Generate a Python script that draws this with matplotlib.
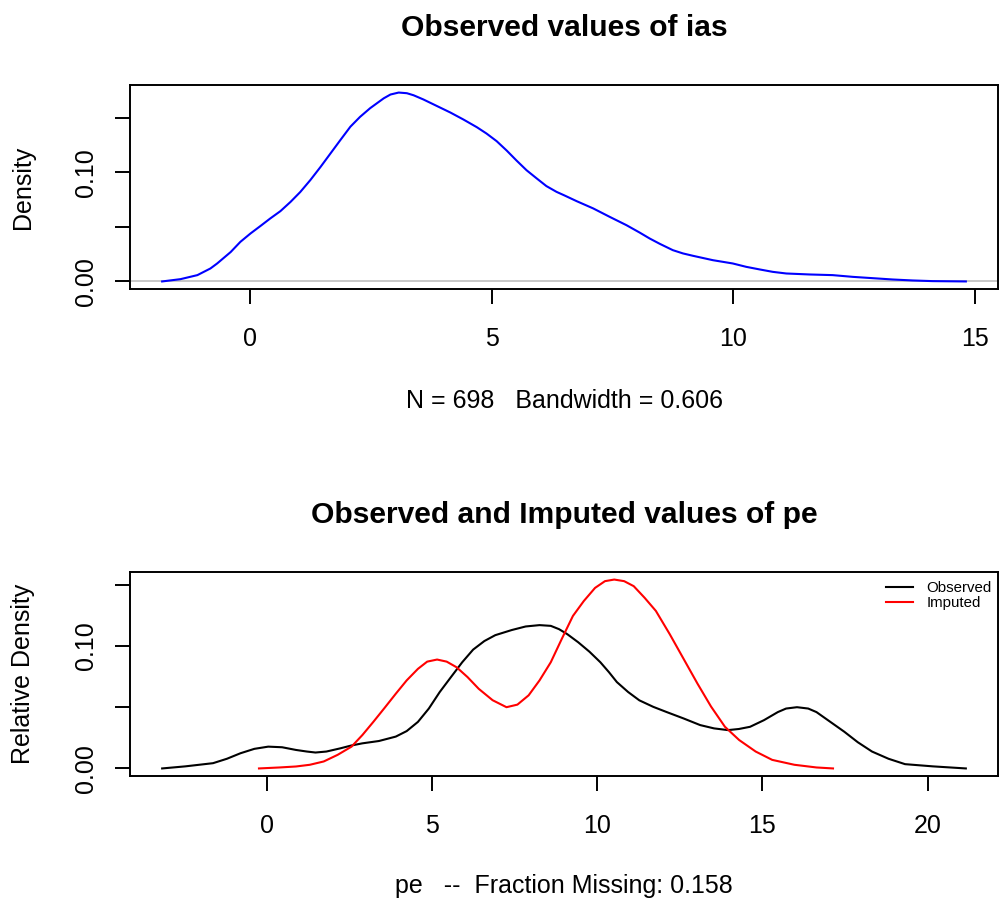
import numpy as np
import matplotlib.pyplot as plt

plt.rcParams['font.family'] = ['Liberation Sans', 'DejaVu Sans']

# density of ias (observed only)
ias_x = [-1.83, -1.45, -1.10, -0.83, -0.69, -0.41, -0.21, 0.00, 0.21, 0.41, 0.62, 0.83, 1.03,
         1.24, 1.45, 1.65, 1.86, 2.07, 2.27, 2.48, 2.76, 2.90, 3.07, 3.24, 3.38, 3.58, 3.86,
         4.14, 4.41, 4.69, 4.89, 5.10, 5.31, 5.51, 5.72, 5.93, 6.13, 6.34, 6.50, 6.76, 7.10,
         7.44, 7.79, 8.06, 8.27, 8.48, 8.75, 8.96, 9.17, 9.58, 9.99, 10.27, 10.55, 10.82,
         11.10, 11.58, 12.06, 12.48, 12.96, 13.30, 13.72, 14.13, 14.82]
ias_y = [0.0000, 0.0021, 0.0058, 0.0119, 0.0165, 0.0270, 0.0363, 0.0440, 0.0510, 0.0578,
         0.0645, 0.0730, 0.0820, 0.0930, 0.1050, 0.1170, 0.1296, 0.1420, 0.1510, 0.1590,
         0.1680, 0.1715, 0.1733, 0.1727, 0.1708, 0.1670, 0.1610, 0.1550, 0.1486, 0.1415,
         0.1357, 0.1287, 0.1200, 0.1110, 0.1020, 0.0945, 0.0875, 0.0822, 0.0790, 0.0736,
         0.0670, 0.0593, 0.0516, 0.0449, 0.0394, 0.0345, 0.0287, 0.0257, 0.0235, 0.0195,
         0.0165, 0.0134, 0.0110, 0.0088, 0.0073, 0.0064, 0.0058, 0.0042, 0.0028, 0.0018,
         0.0009, 0.0003, 0.0000]

# densities of pe, observed vs imputed
pe_obs_x = [-3.16, -2.46, -1.62, -1.20, -0.79, -0.37, 0.05, 0.47, 0.89, 1.22, 1.48, 1.81,
            2.23, 2.56, 2.90, 3.40, 3.91, 4.24, 4.58, 4.91, 5.24, 5.58, 5.92, 6.25, 6.59,
            6.92, 7.42, 7.84, 8.26, 8.60, 8.85, 9.10, 9.43, 9.77, 10.10, 10.36, 10.60, 10.94,
            11.28, 11.70, 12.11, 12.62, 13.12, 13.54, 13.96, 14.29, 14.63, 15.05, 15.47,
            15.72, 16.05, 16.39, 16.64, 17.06, 17.48, 17.89, 18.32, 18.82, 19.32, 20.16,
            21.16]
pe_obs_y = [0.0000, 0.0017, 0.0043, 0.0079, 0.0124, 0.0160, 0.0178, 0.0173, 0.0151, 0.0138,
            0.0130, 0.0138, 0.0164, 0.0187, 0.0205, 0.0224, 0.0260, 0.0305, 0.0380, 0.0489,
            0.0624, 0.0746, 0.0867, 0.0970, 0.1040, 0.1088, 0.1130, 0.1159, 0.1170, 0.1164,
            0.1137, 0.1096, 0.1030, 0.0953, 0.0867, 0.0786, 0.0705, 0.0624, 0.0556, 0.0503,
            0.0460, 0.0408, 0.0354, 0.0327, 0.0313, 0.0322, 0.0340, 0.0394, 0.0460, 0.0489,
            0.0500, 0.0489, 0.0460, 0.0380, 0.0300, 0.0214, 0.0138, 0.0079, 0.0035, 0.0017,
            0.0000]
pe_imp_x = [-0.23, 0.39, 0.89, 1.31, 1.73, 2.15, 2.57, 2.90, 3.23, 3.57, 3.91, 4.24, 4.58,
            4.86, 5.16, 5.45, 5.75, 6.08, 6.42, 6.84, 7.26, 7.59, 7.93, 8.26, 8.60, 8.93,
            9.27, 9.60, 9.94, 10.24, 10.52, 10.82, 11.11, 11.44, 11.78, 12.20, 12.62, 13.04,
            13.45, 13.87, 14.30, 14.80, 15.30, 15.97, 16.64, 17.14]
pe_imp_y = [0.0000, 0.0008, 0.0016, 0.0030, 0.0057, 0.0111, 0.0178, 0.0273, 0.0380, 0.0494,
            0.0610, 0.0719, 0.0813, 0.0872, 0.0889, 0.0872, 0.0826, 0.0746, 0.0650, 0.0557,
            0.0500, 0.0521, 0.0597, 0.0719, 0.0867, 0.1056, 0.1245, 0.1367, 0.1474, 0.1529,
            0.1542, 0.1529, 0.1488, 0.1393, 0.1286, 0.1096, 0.0894, 0.0692, 0.0505, 0.0340,
            0.0232, 0.0138, 0.0070, 0.0030, 0.0008, 0.0000]

ias_ticks = [0, 5, 10, 15]
pe_ticks = [0, 5, 10, 15, 20]
y_ticks = [0.00, 0.05, 0.10, 0.15]
y_labels = ['0.00', '', '0.10', '']

FS = 18


def style_axes(ax, xticks):
    for s in ax.spines.values():
        s.set_linewidth(1.4)
    ax.margins(x=0.04, y=0.04)
    ax.set_xticks(xticks)
    ax.set_yticks(y_ticks)
    ax.set_yticklabels(y_labels, rotation=90, va='center')
    ax.tick_params(axis='both', length=11, width=1.4, labelsize=FS)
    ax.tick_params(axis='x', pad=16.5)
    ax.tick_params(axis='y', pad=12.3)


fig = plt.figure(figsize=(9.99, 8.99), dpi=100)

ax1 = fig.add_axes([130 / 999, 610 / 899, 868 / 999, 204 / 899])
ax1.plot(ias_x, ias_y, color='blue', lw=1.5, solid_joinstyle='round')
ax1.axhline(0, color='#bebebe', lw=1.2, zorder=0)
style_axes(ax1, ias_ticks)
ax1.set_title('Observed values of ias', fontsize=FS * 1.2, fontweight='bold', pad=35)
ax1.set_xlabel('N = 698   Bandwidth = 0.606', fontsize=FS)
ax1.xaxis.set_label_coords(0.5, -0.49)
ax1.set_ylabel('Density', fontsize=FS)
ax1.yaxis.set_label_coords(-0.109, 0.5)

ax2 = fig.add_axes([130 / 999, 123 / 899, 868 / 999, 204 / 899])
ax2.plot(pe_obs_x, pe_obs_y, color='black', lw=1.5, solid_joinstyle='round', label='Observed')
ax2.plot(pe_imp_x, pe_imp_y, color='red', lw=1.5, solid_joinstyle='round', label='Imputed')
style_axes(ax2, pe_ticks)
ax2.set_title('Observed and Imputed values of pe', fontsize=FS * 1.2, fontweight='bold', pad=35)
ax2.set_xlabel('pe   --  Fraction Missing: 0.158', fontsize=FS)
ax2.xaxis.set_label_coords(0.5, -0.48)
ax2.set_ylabel('Relative Density', fontsize=FS)
ax2.yaxis.set_label_coords(-0.109, 0.5)
ax2.legend(loc='upper right', bbox_to_anchor=(1.0, 0.985), frameon=False, fontsize=10.8,
           handlelength=1.8, handletextpad=0.9, labelspacing=0.05, borderaxespad=0,
           borderpad=0.4)

fig.savefig('out.png', dpi=100)
